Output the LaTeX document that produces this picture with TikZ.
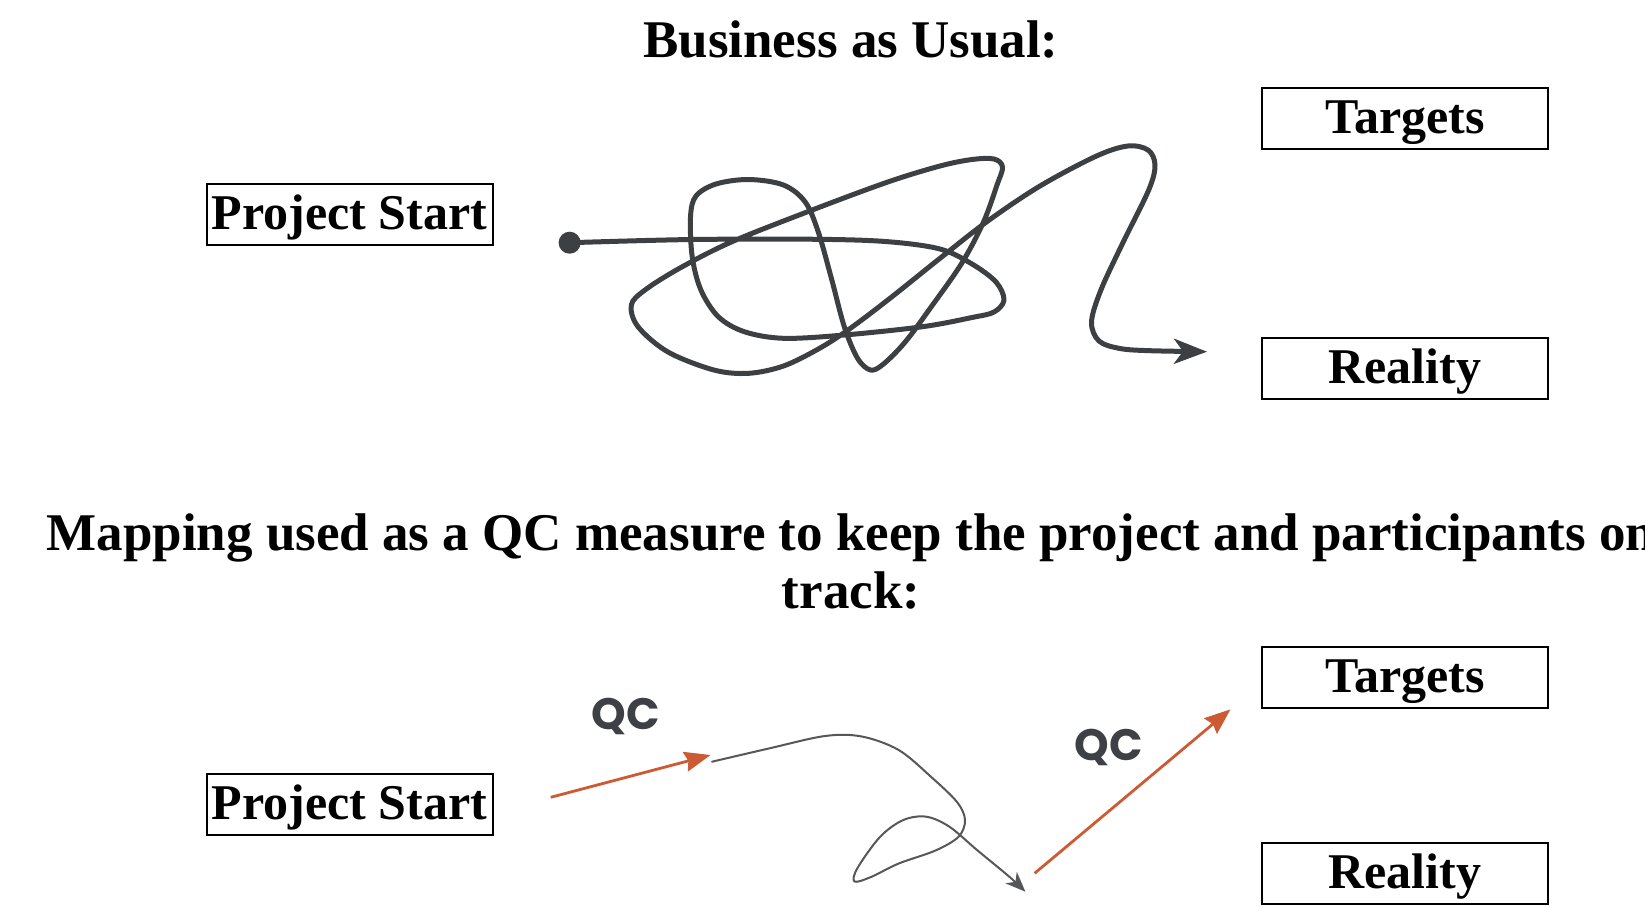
\documentclass[tikz,border=0pt]{standalone}
\usepackage{fontspec}
\setmainfont{Liberation Serif}
\newfontfamily\qcfont{Poppins}
\usetikzlibrary{arrows.meta}
\definecolor{scrib}{HTML}{3D4043}
\definecolor{qcorange}{HTML}{CC5A32}
\definecolor{qcgray}{HTML}{555759}
\definecolor{qctext}{HTML}{3D4145}
\begin{document}
\begin{tikzpicture}[x=0.5pt,y=-0.5pt,
  box/.style={draw=black,line width=1pt,minimum width=143pt,minimum height=30.5pt,inner sep=0pt,
    font=\fontsize{25}{30}\selectfont\bfseries,text height=18pt,text depth=3pt},
  heading/.style={anchor=base,inner sep=0pt,font=\fontsize{26.5}{30}\selectfont\bfseries},
  qclabel/.style={inner sep=0pt,text=qctext,font=\qcfont\bfseries\fontsize{22}{26}\selectfont},
  scribble/.style={draw=scrib,line width=2.5pt,line cap=round,line join=round,
    -{Stealth[length=16.5pt,width=12.5pt,inset=4.5pt]}},
  wander/.style={draw=qcgray,line width=1pt,line cap=round,line join=round,
    -{Stealth[length=10pt,width=8pt,inset=3pt]}},
  qcarrow/.style={draw=qcorange,line width=1.4pt,
    -{Stealth[length=13pt,width=10pt,inset=1.5pt]}},
  startdot/.style={circle,fill=scrib,inner sep=0pt,minimum size=11pt}]
\useasboundingbox (0,0) rectangle (1645,906);
\clip (0,0) rectangle (1645,906);

% headings
\node[heading] (h1) at (851,57) {Business as Usual:};
\node[heading] (h2) at (851,550) {Mapping used as a QC measure to keep the project and participants on};
\node[heading] (h3) at (851,608) {track:};

% boxes top
\node[box] (ps1) at (349.5,214) {Project Start};
\node[box] (tg1) at (1405,118.5) {Targets};
\node[box] (re1) at (1405,368) {Reality};
% boxes bottom
\node[box] (ps2) at (349.5,804.5) {Project Start};
\node[box] (tg2) at (1405,677.5) {Targets};
\node[box] (re2) at (1405,873.5) {Reality};

% scribble
\node[startdot] (dot1) at (569.6,242.7) {};
\coordinate (end1) at (1207,351.7);
\draw[scribble] plot[smooth,tension=0.55] coordinates {
 (dot1.center) (692,239.5) (818,239.3) (888,241.7) (940,249) (972,264) (996,282) (1004,300)
 (994,312) (972,317.5) (922.6,326.7) (844.3,335) (783.5,338.3) (744.3,331.7)
 (718.3,316.7) (700.9,290) (692.2,256.7) (690.5,216.7) (696,196) (716,184)
 (748.7,179.5) (783.5,185) (805.2,202) (818.3,232) (831.3,278) (844.3,326.7)
 (857.4,358) (870.4,370) (883.5,364) (905.2,342) (931.3,306.7) (961.7,263.3)
 (983.5,222) (997,185) (1002.5,167) (994,159) (972,159.5) (940,166)
 (887.8,182) (809.6,211) (731.3,242) (680,268) (645,290) (631.3,305)
 (638,326.7) (668,352) (713.9,370) (748.7,373.3) (783.5,366) (818.3,349)
 (848,330) (887.8,300) (940,258.3) (987.8,221) (1040,186) (1096.5,156)
 (1128,146) (1148,150) (1155,165) (1148.7,190) (1122.6,243.3) (1100.9,290)
 (1091.5,322) (1099,341) (1120,348.5) (1150,350.7) (end1)};

% bottom path
\coordinate (o1s) at (550.7,797.3);
\coordinate (o1e) at (710.6,755);
\coordinate (g0) at (712,761.7);
\coordinate (g1) at (1025.4,891.7);
\coordinate (o2s) at (1034.6,873.3);
\coordinate (o2e) at (1230.5,709.3);

\draw[qcarrow] (o1s) -- (o1e);
\draw[wander] plot[smooth,tension=0.55] coordinates {
 (g0) (769.6,748.3) (825,736) (861.8,736.5) (898.7,750) (930.9,776.7)
 (957,802) (965,820) (958.6,836.7) (935.5,850.5) (898.7,863.5) (871,877)
 (854.5,881.5) (857.5,868) (880.2,836.7) (903.3,820) (926.3,816.7)
 (949.4,826.7) (977,850) (1009.3,876.7) (g1)};
\draw[qcarrow] (o2s) -- (o2e);

\node[qclabel] (qc1) at (626,716) {QC};
\node[qclabel] (qc2) at (1109,747) {QC};
\end{tikzpicture}
\end{document}
